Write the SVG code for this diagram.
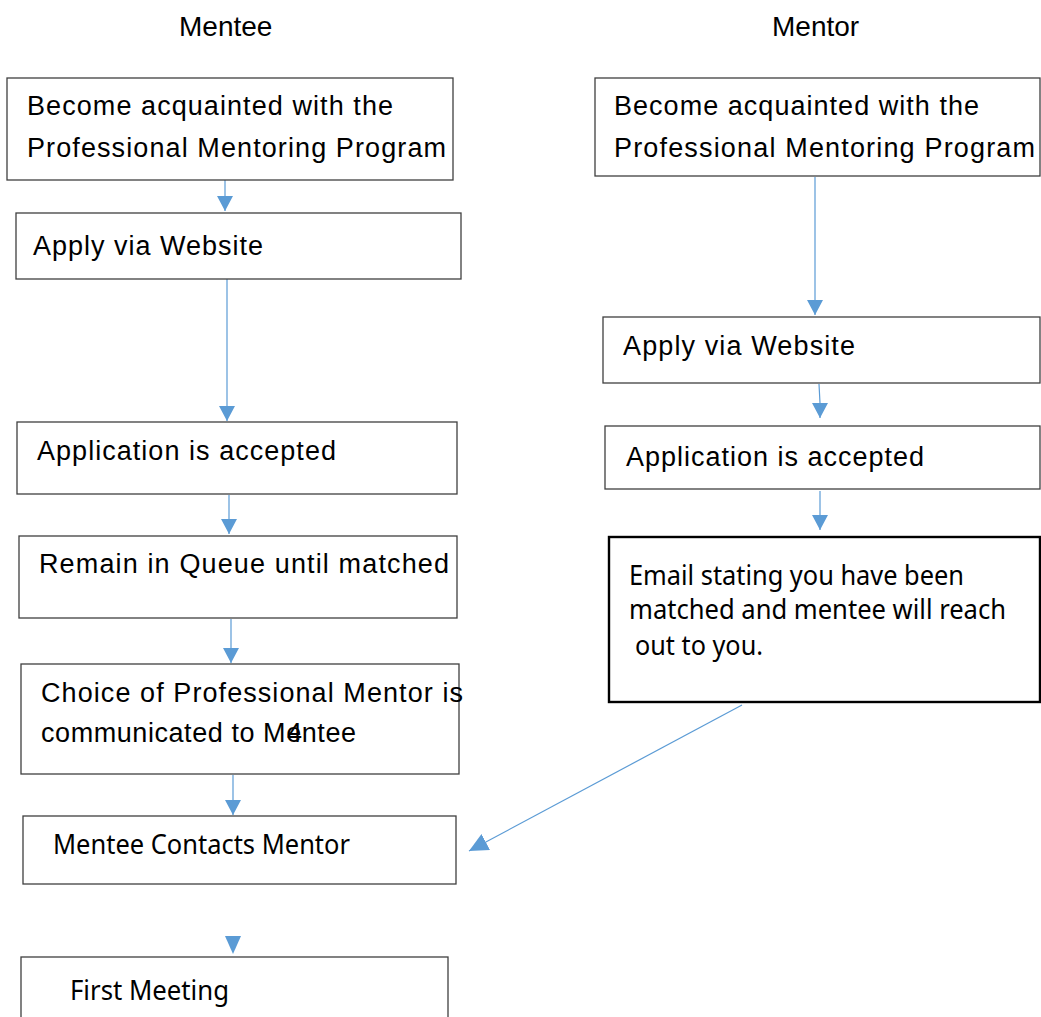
<svg xmlns="http://www.w3.org/2000/svg" width="1041" height="1017" viewBox="0 0 1041 1017">
<style>
.box{fill:#fff;stroke:#3f3f3f;stroke-width:1.3}
.thick{fill:#fff;stroke:#000;stroke-width:2.4}
.t{font-family:"Liberation Sans",Arial,sans-serif;font-size:27px;fill:#000}
.h{font-family:"Liberation Sans",Arial,sans-serif;font-size:28px;fill:#000}
.c{font-family:"Noto Sans","Open Sans",sans-serif;font-size:28px;fill:#000}
.ln{stroke:#5B9BD5;stroke-width:1.2;fill:none}
.hd{fill:#5B9BD5}
</style>
<defs>
<marker id="ah" markerUnits="userSpaceOnUse" markerWidth="16" markerHeight="16" refX="15" refY="8" orient="auto" viewBox="0 0 16 16">
<path d="M0,0 L15,8 L0,16 z" class="hd"/>
</marker>
<marker id="ah2" markerUnits="userSpaceOnUse" markerWidth="20" markerHeight="18" refX="19" refY="9" orient="auto" viewBox="0 0 20 18">
<path d="M0,0 L19,9 L0,18 z" class="hd"/>
</marker>
</defs>
<rect width="1041" height="1017" fill="#fff"/>
<g id="headers">
<text class="h" x="179" y="36">Mentee</text>
<text class="h" x="772" y="36">Mentor</text>
</g>
<g id="connectors">
<line class="ln" x1="225" y1="180" x2="225" y2="211" marker-end="url(#ah)"/>
<line class="ln" x1="227" y1="279" x2="227" y2="421" marker-end="url(#ah)"/>
<line class="ln" x1="229" y1="495" x2="229" y2="534" marker-end="url(#ah)"/>
<line class="ln" x1="231" y1="619" x2="231" y2="663" marker-end="url(#ah)"/>
<line class="ln" x1="233" y1="775" x2="233" y2="815" marker-end="url(#ah)"/>
<polygon class="hd" points="225,936 241,936 233,954"/>
<line class="ln" x1="815" y1="177" x2="815" y2="315" marker-end="url(#ah)"/>
<polyline class="ln" points="819,384 820,403 820,418" marker-end="url(#ah)"/>
<line class="ln" x1="820" y1="491" x2="820" y2="530" marker-end="url(#ah)"/>
<line class="ln" x1="742" y1="705" x2="469" y2="851" marker-end="url(#ah2)"/>
</g>
<g id="mentee-1">
<rect class="box" x="7" y="78" width="446" height="102"/>
<text class="t" x="27" y="115" textLength="366">Become acquainted with the</text>
<text class="t" x="27" y="157" textLength="419">Professional Mentoring Program</text>
</g>
<g id="mentee-2">
<rect class="box" x="16" y="213" width="445" height="66"/>
<text class="t" x="33" y="255" textLength="230">Apply via Website</text>
</g>
<g id="mentee-3">
<rect class="box" x="17" y="422" width="440" height="72"/>
<text class="t" x="37" y="460" textLength="299">Application is accepted</text>
</g>
<g id="mentee-4">
<rect class="box" x="19" y="536" width="438" height="82"/>
<text class="t" x="39" y="573" textLength="410">Remain in Queue until matched</text>
</g>
<g id="mentee-5">
<rect class="box" x="21" y="664" width="438" height="110"/>
<text class="t" x="41" y="702" textLength="422">Choice of Professional Mentor is</text>
<text class="t" x="41" y="742" textLength="315">communicated to Mentee</text>
<text class="t" x="287" y="742">4</text>
</g>
<g id="mentee-6">
<rect class="box" x="23" y="816" width="433" height="68"/>
<text class="c" x="53" y="854" textLength="297" lengthAdjust="spacingAndGlyphs">Mentee Contacts Mentor</text>
</g>
<g id="mentee-7">
<rect class="box" x="21" y="957" width="427" height="80"/>
<text class="c" x="70" y="1000" textLength="159" lengthAdjust="spacingAndGlyphs">First Meeting</text>
</g>
<g id="mentor-1">
<rect class="box" x="595" y="78" width="445" height="98"/>
<text class="t" x="614" y="115" textLength="365">Become acquainted with the</text>
<text class="t" x="614" y="157" textLength="421">Professional Mentoring Program</text>
</g>
<g id="mentor-2">
<rect class="box" x="603" y="317" width="437" height="66"/>
<text class="t" x="623" y="355" textLength="232">Apply via Website</text>
</g>
<g id="mentor-3">
<rect class="box" x="605" y="426" width="435" height="63"/>
<text class="t" x="626" y="466" textLength="298">Application is accepted</text>
</g>
<g id="mentor-4">
<rect class="thick" x="609" y="537" width="431" height="165"/>
<text class="c" x="629" y="585" textLength="335" lengthAdjust="spacingAndGlyphs">Email stating you have been</text>
<text class="c" x="629" y="619" textLength="377" lengthAdjust="spacingAndGlyphs">matched and mentee will reach</text>
<text class="c" x="635" y="655" textLength="128" lengthAdjust="spacingAndGlyphs">out to you.</text>
</g>
</svg>
